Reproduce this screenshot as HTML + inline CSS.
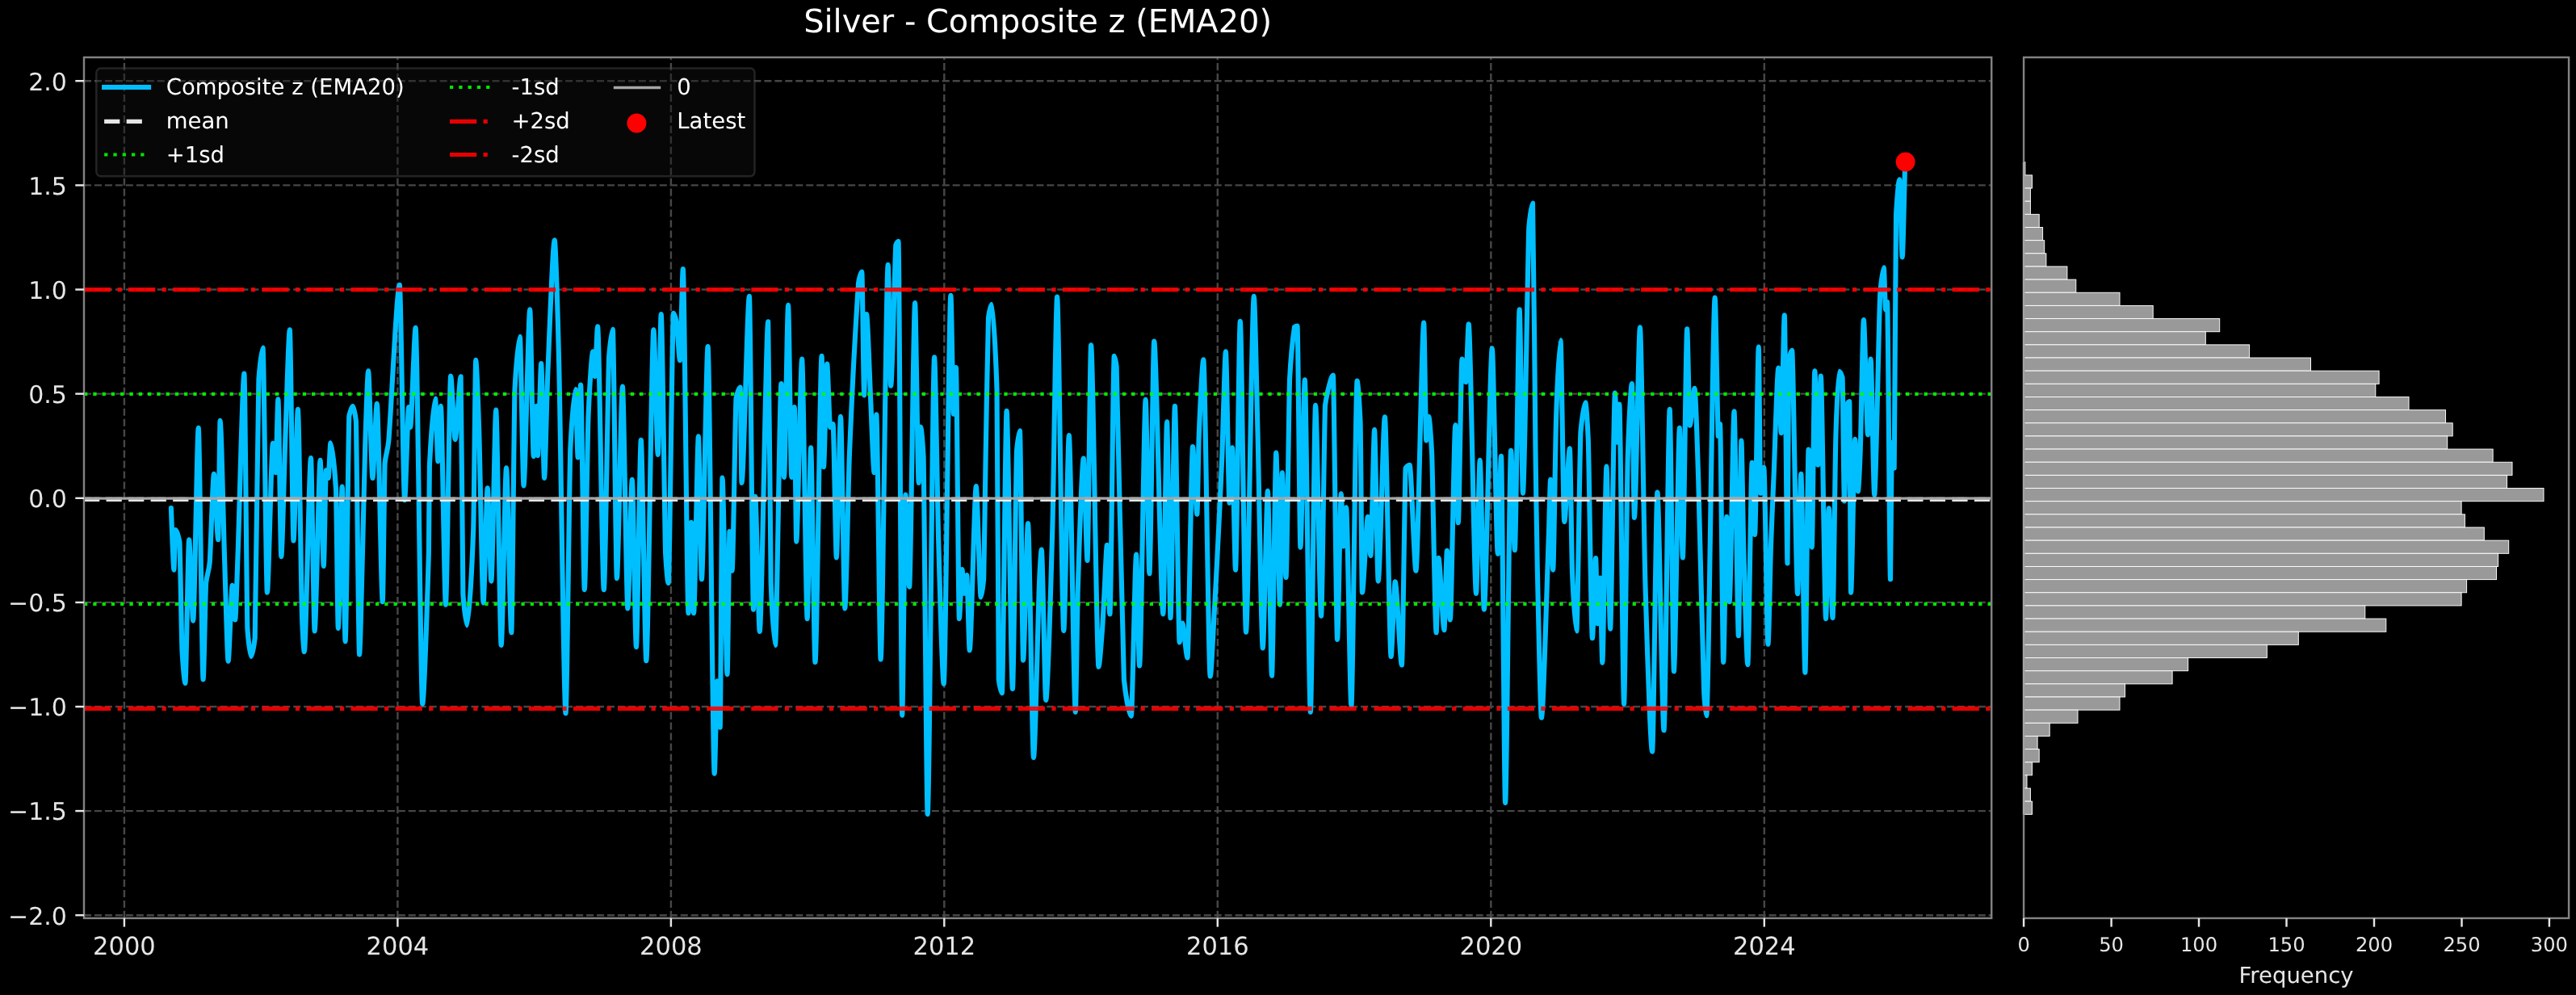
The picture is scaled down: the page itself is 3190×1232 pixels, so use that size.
<!DOCTYPE html>
<html><head><meta charset="utf-8"><title>Silver - Composite z (EMA20)</title>
<style>
html,body{margin:0;padding:0;background:#000;}
body{width:3190px;height:1232px;overflow:hidden;}
svg{display:block;will-change:transform;}
text{text-rendering:geometricPrecision;}
text{font-family:"DejaVu Sans","Liberation Sans",sans-serif;fill:#e6e6e6;}
</style></head><body>
<svg width="3190" height="1232" viewBox="0 0 3190 1232">
<rect width="3190" height="1232" fill="#000"/>

<g stroke="#464646" stroke-width="2.44" stroke-dasharray="9.05 3.91" fill="none">
<path d="M153.9 1136.9 V71.0"/>
<path d="M492.4 1136.9 V71.0"/>
<path d="M830.9 1136.9 V71.0"/>
<path d="M1169.3 1136.9 V71.0"/>
<path d="M1507.8 1136.9 V71.0"/>
<path d="M1846.3 1136.9 V71.0"/>
<path d="M2184.8 1136.9 V71.0"/>
<path d="M104.0 1133.2 H2466.2"/>
<path d="M104.0 1004.1 H2466.2"/>
<path d="M104.0 875.0 H2466.2"/>
<path d="M104.0 745.9 H2466.2"/>
<path d="M104.0 616.8 H2466.2"/>
<path d="M104.0 487.6 H2466.2"/>
<path d="M104.0 358.5 H2466.2"/>
<path d="M104.0 229.4 H2466.2"/>
<path d="M104.0 100.2 H2466.2"/>
</g>
<clipPath id="c"><rect x="104.0" y="71.0" width="2362.2" height="1065.9"/></clipPath>
<g clip-path="url(#c)">
<path d="M211.9 629.0 C212.3 640.1 213.2 664.0 213.6 673.3 C214.1 683.1 214.9 705.6 215.4 705.6 C215.9 705.6 216.8 656.1 217.3 656.1 C218.6 656.1 221.1 664.3 222.4 671.0 C223.2 685.2 224.7 786.8 225.5 806.2 C226.5 824.1 228.4 846.0 229.4 846.0 C230.6 846.0 232.9 668.3 234.1 668.3 C235.4 668.3 237.9 768.6 239.2 768.6 C240.8 768.6 244.1 529.8 245.7 529.8 C247.2 529.8 250.1 841.3 251.6 841.3 C252.5 841.3 254.2 737.9 255.1 722.3 C256.2 710.7 258.6 708.2 259.7 696.6 C261.0 678.6 263.6 586.9 264.9 586.9 C266.2 586.9 268.9 668.3 270.2 668.3 C270.8 668.3 272.0 520.9 272.6 520.9 C274.1 520.9 276.9 659.2 278.4 702.4 C279.4 733.7 281.6 818.7 282.6 818.7 C283.9 818.7 286.4 724.9 287.7 724.9 C288.6 724.9 290.3 767.4 291.2 767.4 C292.1 767.4 293.8 706.4 294.7 682.6 C296.6 630.2 300.5 462.6 302.4 462.6 C303.4 462.6 305.4 737.5 306.4 778.2 C307.5 793.8 309.9 812.9 311.0 812.9 C312.2 812.9 314.5 800.2 315.7 789.9 C316.9 747.0 319.2 513.1 320.4 470.0 C321.7 452.3 324.2 430.6 325.5 430.6 C326.9 430.6 329.5 733.6 330.9 733.6 C332.6 733.6 336.1 548.9 337.9 548.9 C338.8 548.9 340.5 585.1 341.4 585.1 C342.1 585.1 343.6 494.3 344.4 494.3 C345.4 494.3 347.3 689.3 348.3 689.3 C349.5 689.3 351.8 585.4 353.0 553.9 C354.4 515.1 357.4 408.2 358.8 408.2 C360.0 408.2 362.3 669.5 363.5 669.5 C364.9 669.5 367.5 506.9 368.9 506.9 C370.2 506.9 372.7 715.8 374.0 764.2 C374.7 783.5 376.1 807.0 376.8 807.0 C378.9 807.0 382.9 567.1 385.0 567.1 C386.1 567.1 388.5 781.4 389.6 781.4 C391.4 781.4 394.9 569.9 396.6 569.9 C397.7 569.9 399.8 700.9 400.8 700.9 C401.6 700.9 403.1 582.2 403.8 582.2 C404.5 582.2 405.9 592.0 406.6 592.0 C407.3 592.0 408.7 548.4 409.4 548.4 C411.0 548.4 414.4 579.6 416.0 605.2 C416.7 622.3 418.1 777.9 418.8 777.9 C420.0 777.9 422.5 602.5 423.7 602.5 C424.7 602.5 426.6 794.2 427.6 794.2 C428.8 794.2 431.1 551.8 432.3 515.4 C433.5 509.8 435.8 502.9 437.0 502.9 C438.0 502.9 439.9 513.0 440.9 521.3 C441.9 561.2 444.1 810.5 445.1 810.5 C446.0 810.5 447.7 730.8 448.6 698.9 C449.5 667.0 451.2 583.1 452.1 555.1 C453.1 523.2 455.1 459.3 456.1 459.3 C457.4 459.3 460.1 592.0 461.4 592.0 C462.8 592.0 465.4 499.9 466.8 499.9 C468.6 499.9 472.1 745.3 473.8 745.3 C474.5 745.3 475.9 592.3 476.6 573.7 C477.8 561.1 480.1 558.3 481.3 545.7 C484.7 504.8 491.4 352.9 494.8 352.9 C496.4 352.9 499.5 619.3 501.1 619.3 C502.4 619.3 504.9 504.1 506.2 504.1 C506.7 504.1 507.6 529.1 508.1 529.1 C509.7 529.1 513.0 405.8 514.6 405.8 C516.8 405.8 521.1 871.6 523.2 871.6 C525.1 871.6 529.0 750.1 530.9 685.0 C531.1 676.5 531.6 583.0 531.9 577.2 C533.7 539.6 537.3 493.6 539.1 493.6 C539.9 493.6 541.6 571.1 542.4 571.1 C543.3 571.1 545.0 502.9 545.9 502.9 C547.4 502.9 550.4 748.8 551.9 748.8 C553.5 748.8 556.6 465.6 558.2 465.6 C559.6 465.6 562.2 544.2 563.6 544.2 C565.4 544.2 568.9 466.3 570.6 466.3 C571.3 466.3 572.7 709.0 573.4 736.3 C574.7 753.4 577.2 774.4 578.5 774.4 C580.4 774.4 584.3 709.2 586.2 655.8 C587.0 632.8 588.5 445.8 589.2 445.8 C590.2 445.8 592.2 500.9 593.2 532.9 C594.6 576.1 597.2 746.4 598.6 746.4 C599.9 746.4 602.4 604.4 603.7 604.4 C604.9 604.4 607.2 719.6 608.4 719.6 C609.9 719.6 612.8 507.6 614.2 507.6 C615.8 507.6 619.1 798.9 620.7 798.9 C622.3 798.9 625.4 579.2 627.0 579.2 C628.6 579.2 631.7 783.3 633.3 783.3 C634.3 783.3 636.5 518.3 637.5 481.6 C639.1 452.4 642.2 416.7 643.8 416.7 C645.0 416.7 647.3 601.4 648.5 601.4 C650.4 601.4 654.3 383.2 656.2 383.2 C657.4 383.2 659.6 565.2 660.8 565.2 C661.7 565.2 663.4 502.9 664.3 502.9 C664.7 502.9 665.6 564.1 666.0 564.1 C667.0 564.1 669.2 450.0 670.2 450.0 C671.2 450.0 673.1 592.0 674.1 592.0 C675.1 592.0 677.2 487.5 678.3 463.0 C680.4 413.9 684.6 297.4 686.7 297.4 C688.1 297.4 690.9 395.4 692.3 454.8 C694.3 541.8 698.5 883.3 700.5 883.3 C702.0 883.3 704.8 604.3 706.3 556.2 C707.9 522.8 711.0 482.0 712.6 482.0 C713.4 482.0 714.9 566.4 715.7 566.4 C716.6 566.4 718.2 476.6 719.1 476.6 C720.3 476.6 722.6 730.1 723.8 730.1 C725.0 730.1 727.3 549.6 728.5 516.6 C730.0 480.0 732.8 435.3 734.3 435.3 C734.9 435.3 736.0 466.1 736.6 466.1 C737.5 466.1 739.2 404.2 740.1 404.2 C742.0 404.2 745.9 730.1 747.8 730.1 C749.4 730.1 752.5 488.2 754.1 442.0 C755.3 426.6 757.6 407.7 758.8 407.7 C760.1 407.7 762.6 716.1 763.9 716.1 C765.6 716.1 769.1 478.5 770.9 478.5 C772.5 478.5 775.8 753.4 777.4 753.4 C778.8 753.4 781.4 593.9 782.8 593.9 C784.1 593.9 786.6 801.2 787.9 801.2 C789.4 801.2 792.3 544.9 793.8 544.9 C795.4 544.9 798.7 818.2 800.3 818.2 C802.6 818.2 807.1 408.2 809.4 408.2 C810.8 408.2 813.4 562.9 814.8 562.9 C815.8 562.9 817.7 389.0 818.7 389.0 C820.1 389.0 822.8 634.5 824.1 685.0 C825.0 701.6 826.7 721.9 827.6 721.9 C829.2 721.9 832.5 387.9 834.1 387.9 C835.1 387.9 837.1 395.4 838.1 401.5 C839.1 408.7 841.0 446.3 842.0 446.3 C843.0 446.3 844.8 333.1 845.8 333.1 C847.5 333.1 850.8 759.2 852.5 759.2 C853.4 759.2 855.1 646.8 856.0 646.8 C856.8 646.8 858.3 759.2 859.1 759.2 C860.5 759.2 863.5 540.2 864.9 540.2 C865.9 540.2 867.9 717.3 868.9 717.3 C870.8 717.3 874.7 429.0 876.6 429.0 C878.6 429.0 882.7 957.9 884.7 957.9 C885.6 957.9 887.3 843.2 888.2 843.2 C889.1 843.2 890.8 900.8 891.7 900.8 C892.4 900.8 893.8 591.6 894.5 591.6 C896.0 591.6 899.1 835.0 900.6 835.0 C901.3 835.0 902.7 673.1 903.4 658.1 C904.2 658.1 905.8 706.8 906.6 706.8 C907.8 706.8 910.3 520.9 911.5 493.3 C912.8 487.1 915.4 479.6 916.7 479.6 C917.2 479.6 918.0 597.9 918.5 597.9 C920.9 597.9 925.5 366.9 927.9 366.9 C929.2 366.9 931.7 754.6 933.0 754.6 C933.6 754.6 934.7 614.9 935.3 614.9 C936.6 614.9 939.4 781.9 940.7 781.9 C943.3 781.9 948.6 398.4 951.2 398.4 C952.1 398.4 953.8 682.5 954.7 722.3 C956.0 756.8 958.7 798.9 960.0 798.9 C961.9 798.9 965.6 475.0 967.5 475.0 C968.4 475.0 970.1 590.9 971.0 590.9 C972.3 590.9 974.8 377.8 976.1 377.8 C977.1 377.8 979.2 590.9 980.3 590.9 C981.2 590.9 982.9 504.1 983.8 504.1 C984.4 504.1 985.6 670.6 986.2 670.6 C987.9 670.6 991.4 444.6 993.1 444.6 C994.8 444.6 998.1 766.2 999.7 766.2 C1000.8 766.2 1003.0 554.2 1004.1 554.2 C1005.5 554.2 1008.1 819.9 1009.5 819.9 C1011.5 819.9 1015.6 440.7 1017.6 440.7 C1018.2 440.7 1019.4 578.1 1020.0 578.1 C1021.0 578.1 1023.2 450.5 1024.2 450.5 C1025.2 450.5 1027.1 529.1 1028.1 529.1 C1029.0 529.1 1030.7 525.1 1031.6 525.1 C1032.6 525.1 1034.8 690.5 1035.8 690.5 C1037.1 690.5 1039.7 515.8 1041.0 515.8 C1042.3 515.8 1045.0 753.4 1046.3 753.4 C1047.7 753.4 1050.5 596.8 1051.9 563.2 C1054.7 496.0 1060.3 391.4 1063.1 350.2 C1064.1 344.1 1066.2 336.6 1067.3 336.6 C1068.0 336.6 1069.4 489.4 1070.1 489.4 C1070.8 489.4 1072.3 389.0 1073.1 389.0 C1074.4 389.0 1077.0 470.8 1078.3 497.9 C1079.3 519.8 1081.5 585.1 1082.5 585.1 C1083.2 585.1 1084.6 513.4 1085.3 513.4 C1086.6 513.4 1089.3 816.4 1090.6 816.4 C1092.9 816.4 1097.4 327.9 1099.7 327.9 C1100.6 327.9 1102.3 477.8 1103.2 477.8 C1104.7 477.8 1107.8 333.0 1109.3 303.6 C1110.1 301.4 1111.7 298.8 1112.5 298.8 C1113.7 298.8 1116.0 885.6 1117.2 885.6 C1118.2 885.6 1120.4 612.5 1121.4 612.5 C1122.6 612.5 1124.9 726.6 1126.1 726.6 C1127.8 726.6 1131.3 375.0 1133.1 375.0 C1134.2 375.0 1136.5 597.9 1137.7 597.9 C1138.3 597.9 1139.5 528.6 1140.1 528.6 C1141.0 528.6 1142.7 549.0 1143.6 565.6 C1144.9 636.7 1147.4 1008.1 1148.7 1008.1 C1150.8 1008.1 1155.0 442.3 1157.1 442.3 C1158.4 442.3 1160.9 625.4 1162.2 669.8 C1163.8 726.5 1167.1 846.7 1168.7 846.7 C1170.9 846.7 1175.2 365.7 1177.4 365.7 C1178.3 365.7 1180.0 512.8 1180.9 512.8 C1181.7 512.8 1183.2 455.1 1183.9 455.1 C1184.9 455.1 1186.9 766.2 1187.9 766.2 C1188.8 766.2 1190.5 705.1 1191.4 705.1 C1192.1 705.1 1193.5 734.8 1194.2 734.8 C1195.0 734.8 1196.5 712.1 1197.2 712.1 C1198.1 712.1 1199.8 805.2 1200.7 805.2 C1202.7 805.2 1206.8 602.0 1208.8 602.0 C1210.3 602.0 1213.2 739.4 1214.7 739.4 C1215.6 739.4 1217.3 726.8 1218.2 716.4 C1218.8 699.9 1219.9 604.6 1220.5 572.6 C1221.4 523.9 1223.1 415.6 1224.0 393.4 C1225.0 386.0 1227.2 376.9 1228.2 376.9 C1229.8 376.9 1232.9 434.5 1234.5 481.6 C1235.1 512.7 1236.2 807.3 1236.8 841.7 C1237.8 849.2 1239.8 858.3 1240.8 858.3 C1242.2 858.3 1245.1 508.8 1246.6 508.8 C1248.4 508.8 1252.1 853.0 1253.9 853.0 C1255.2 853.0 1257.7 603.9 1259.0 558.6 C1260.0 547.2 1261.9 533.3 1262.9 533.3 C1264.0 533.3 1266.0 817.5 1267.1 817.5 C1268.6 817.5 1271.5 648.0 1273.0 648.0 C1274.8 648.0 1278.2 938.1 1280.0 938.1 C1281.8 938.1 1285.2 768.3 1287.0 722.3 C1287.7 703.9 1289.1 680.6 1289.8 680.6 C1291.2 680.6 1293.8 867.0 1295.2 867.0 C1297.2 867.0 1301.3 727.4 1303.3 654.6 C1304.8 602.5 1307.6 367.6 1309.1 367.6 C1311.1 367.6 1315.2 780.9 1317.3 780.9 C1318.9 780.9 1322.2 539.1 1323.8 539.1 C1325.8 539.1 1329.8 881.7 1331.8 881.7 C1332.5 881.7 1334.0 752.9 1334.8 729.3 C1336.5 674.3 1340.0 567.5 1341.8 567.5 C1343.0 567.5 1345.3 694.0 1346.5 694.0 C1347.7 694.0 1349.9 427.2 1351.1 427.2 C1353.4 427.2 1358.2 825.7 1360.5 825.7 C1361.7 825.7 1363.9 793.1 1365.1 778.2 C1365.7 770.7 1366.8 746.6 1367.4 736.3 C1368.3 720.7 1370.0 674.8 1370.9 674.8 C1371.8 674.8 1373.5 760.4 1374.4 760.4 C1375.8 760.4 1378.5 440.7 1379.8 440.7 C1380.5 440.7 1381.9 447.8 1382.6 453.6 C1384.9 530.7 1389.6 786.4 1391.9 841.7 C1394.1 862.0 1398.6 886.8 1400.8 886.8 C1402.4 886.8 1405.5 686.5 1407.1 686.5 C1408.1 686.5 1410.1 824.5 1411.1 824.5 C1413.0 824.5 1416.8 494.8 1418.7 494.8 C1419.9 494.8 1422.2 710.3 1423.4 710.3 C1424.9 710.3 1427.8 422.5 1429.2 422.5 C1432.0 422.5 1437.6 760.4 1440.4 760.4 C1441.6 760.4 1443.9 522.3 1445.1 522.3 C1446.2 522.3 1448.4 765.1 1449.5 765.1 C1450.8 765.1 1453.6 502.9 1454.9 502.9 C1456.4 502.9 1459.2 795.4 1460.7 795.4 C1461.6 795.4 1463.3 771.6 1464.2 771.6 C1465.8 771.6 1468.9 814.5 1470.5 814.5 C1472.1 814.5 1475.4 553.1 1477.0 553.1 C1478.3 553.1 1481.1 636.8 1482.4 636.8 C1483.0 636.8 1484.1 553.8 1484.7 539.9 C1486.1 506.0 1488.9 445.3 1490.3 445.3 C1492.4 445.3 1496.6 837.4 1498.7 837.4 C1500.0 837.4 1502.6 777.0 1503.9 754.9 C1504.8 740.0 1506.5 707.2 1507.4 689.6 C1508.9 660.4 1511.8 603.0 1513.2 567.9 C1514.4 539.4 1516.7 435.3 1517.9 435.3 C1519.1 435.3 1521.3 622.8 1522.5 622.8 C1523.4 622.8 1525.1 554.2 1526.0 554.2 C1527.0 554.2 1529.0 705.6 1530.0 705.6 C1531.5 705.6 1534.3 397.9 1535.8 397.9 C1537.6 397.9 1541.2 782.6 1543.0 782.6 C1545.5 782.6 1550.3 366.9 1552.8 366.9 C1554.0 366.9 1556.3 488.8 1557.5 535.3 C1559.1 597.7 1562.2 802.4 1563.8 802.4 C1565.3 802.4 1568.4 607.9 1569.9 607.9 C1571.2 607.9 1573.7 836.7 1575.0 836.7 C1576.3 836.7 1579.0 560.5 1580.3 560.5 C1581.5 560.5 1583.8 748.8 1585.0 748.8 C1585.7 748.8 1587.1 585.3 1587.8 585.3 C1589.0 585.3 1591.3 714.9 1592.5 714.9 C1593.7 714.9 1595.9 502.7 1597.1 468.8 C1598.6 440.1 1601.5 415.2 1603.0 405.0 C1603.9 404.3 1605.6 403.5 1606.5 403.5 C1607.5 403.5 1609.4 677.6 1610.4 677.6 C1611.8 677.6 1614.5 470.3 1615.8 470.3 C1617.5 470.3 1621.0 881.7 1622.8 881.7 C1624.4 881.7 1627.5 501.8 1629.1 501.8 C1630.8 501.8 1634.3 762.7 1636.1 762.7 C1637.3 762.7 1639.8 534.4 1641.0 502.6 C1642.6 489.0 1645.7 478.4 1647.3 472.3 C1648.2 468.9 1649.9 464.5 1650.8 464.5 C1652.1 464.5 1654.8 791.9 1656.1 791.9 C1657.3 791.9 1659.6 611.4 1660.8 611.4 C1661.5 611.4 1662.9 676.5 1663.6 676.5 C1664.5 676.5 1666.2 628.2 1667.1 628.2 C1668.7 628.2 1671.8 874.0 1673.4 874.0 C1675.2 874.0 1678.8 471.5 1680.6 471.5 C1681.6 471.5 1683.6 500.2 1684.6 523.6 C1685.2 547.5 1686.3 733.6 1686.9 733.6 C1688.7 733.6 1692.2 639.8 1693.9 639.8 C1694.8 639.8 1696.5 688.1 1697.4 688.1 C1698.6 688.1 1700.9 532.1 1702.1 532.1 C1703.2 532.1 1705.5 719.6 1706.7 719.6 C1708.8 719.6 1712.9 516.2 1714.9 516.2 C1716.8 516.2 1720.7 812.9 1722.6 812.9 C1723.9 812.9 1726.4 720.3 1727.7 720.3 C1729.8 720.3 1733.9 823.4 1735.9 823.4 C1737.1 823.4 1739.4 609.3 1740.6 579.6 C1741.9 577.9 1744.4 575.9 1745.7 575.9 C1747.6 575.9 1751.5 706.8 1753.4 706.8 C1755.9 706.8 1760.8 399.5 1763.2 399.5 C1764.0 399.5 1765.5 545.4 1766.2 545.4 C1767.0 545.4 1768.5 515.8 1769.2 515.8 C1770.2 515.8 1772.2 541.9 1773.2 563.2 C1774.5 601.6 1777.2 783.3 1778.6 783.3 C1779.3 783.3 1780.7 690.7 1781.4 690.7 C1783.2 690.7 1786.7 780.2 1788.4 780.2 C1789.3 780.2 1791.0 681.8 1791.9 681.8 C1792.9 681.8 1794.8 767.4 1795.8 767.4 C1797.4 767.4 1800.7 526.3 1802.3 526.3 C1803.2 526.3 1804.9 647.3 1805.8 647.3 C1807.0 647.3 1809.3 444.6 1810.5 444.6 C1811.7 444.6 1814.0 473.1 1815.2 473.1 C1816.1 473.1 1817.8 401.2 1818.7 401.2 C1821.0 401.2 1825.7 734.8 1828.0 734.8 C1829.2 734.8 1831.5 569.9 1832.7 569.9 C1834.0 569.9 1836.5 754.6 1837.8 754.6 C1840.3 754.6 1845.3 431.3 1847.8 431.3 C1849.5 431.3 1853.0 685.8 1854.8 685.8 C1855.8 685.8 1858.0 564.7 1859.0 564.7 C1860.3 564.7 1862.8 994.1 1864.1 994.1 C1865.8 994.1 1869.3 557.7 1871.1 557.7 C1872.3 557.7 1874.6 681.1 1875.8 681.1 C1877.3 681.1 1880.2 383.2 1881.7 383.2 C1882.8 383.2 1884.9 610.7 1885.9 610.7 C1887.8 610.7 1891.5 336.3 1893.3 281.4 C1894.5 267.9 1896.8 251.5 1898.0 251.5 C1898.9 251.5 1900.6 490.4 1901.5 558.6 C1902.1 603.4 1903.2 678.0 1903.8 703.6 C1905.1 760.5 1907.6 888.7 1908.9 888.7 C1911.1 888.7 1915.6 722.6 1917.8 664.0 C1918.4 648.9 1919.5 593.9 1920.1 593.9 C1920.9 593.9 1922.4 705.6 1923.2 705.6 C1924.2 705.6 1926.1 546.4 1927.1 516.6 C1928.4 475.3 1931.2 421.3 1932.5 421.3 C1933.7 421.3 1936.0 646.1 1937.2 646.1 C1938.9 646.1 1942.2 555.4 1943.9 555.4 C1944.7 555.4 1946.2 687.4 1947.0 708.3 C1948.3 741.2 1951.0 781.4 1952.3 781.4 C1953.6 781.4 1956.1 568.1 1957.4 535.3 C1958.9 518.6 1961.8 498.3 1963.3 498.3 C1964.2 498.3 1965.9 523.8 1966.8 544.6 C1968.1 587.9 1970.6 790.3 1971.9 790.3 C1973.0 790.3 1975.0 691.1 1976.1 691.1 C1976.7 691.1 1977.8 772.1 1978.4 772.1 C1979.2 772.1 1980.7 715.6 1981.5 715.6 C1982.2 715.6 1983.6 820.6 1984.3 820.6 C1985.6 820.6 1988.1 577.6 1989.4 577.6 C1990.6 577.6 1992.9 778.6 1994.1 778.6 C1995.5 778.6 1998.5 486.6 1999.9 486.6 C2000.7 486.6 2002.2 547.7 2002.9 547.7 C2003.5 547.7 2004.7 500.6 2005.3 500.6 C2006.8 500.6 2009.6 871.6 2011.1 871.6 C2012.2 871.6 2014.5 614.4 2015.7 567.9 C2017.0 526.1 2019.6 475.0 2020.9 475.0 C2021.7 475.0 2023.2 641.0 2023.9 641.0 C2025.7 641.0 2029.2 405.4 2030.9 405.4 C2032.5 405.4 2035.8 665.0 2037.4 721.1 C2039.6 796.3 2043.9 930.6 2046.1 930.6 C2047.7 930.6 2050.8 609.5 2052.4 609.5 C2054.4 609.5 2058.5 904.3 2060.5 904.3 C2062.3 904.3 2065.9 506.9 2067.7 506.9 C2069.0 506.9 2071.6 831.3 2072.9 831.3 C2074.7 831.3 2078.2 529.8 2079.9 529.8 C2080.9 529.8 2082.8 690.5 2083.8 690.5 C2085.2 690.5 2087.8 407.2 2089.2 407.2 C2090.1 407.2 2091.8 526.8 2092.7 526.8 C2094.1 526.8 2097.1 480.8 2098.5 480.8 C2099.7 480.8 2102.0 555.6 2103.2 593.5 C2104.9 649.9 2108.4 806.8 2110.2 858.0 C2110.9 870.7 2112.4 886.3 2113.2 886.3 C2115.8 886.3 2121.1 368.5 2123.7 368.5 C2124.7 368.5 2126.7 515.0 2127.7 539.9 C2128.3 539.9 2129.4 525.1 2130.0 525.1 C2131.1 525.1 2133.1 819.9 2134.2 819.9 C2135.2 819.9 2137.2 639.8 2138.2 639.8 C2139.1 639.8 2140.8 745.3 2141.7 745.3 C2143.1 745.3 2146.1 509.2 2147.5 509.2 C2148.8 509.2 2151.6 787.2 2152.9 787.2 C2153.8 787.2 2155.5 545.6 2156.4 545.6 C2157.1 545.6 2158.5 651.0 2159.2 675.6 C2160.5 720.4 2163.0 822.9 2164.3 822.9 C2165.7 822.9 2168.3 572.9 2169.7 572.9 C2170.5 572.9 2172.2 662.0 2173.1 662.0 C2174.3 662.0 2176.6 429.5 2177.8 429.5 C2178.4 429.5 2179.5 610.7 2180.1 610.7 C2181.2 610.7 2183.2 578.7 2184.3 578.7 C2185.6 578.7 2188.2 797.7 2189.5 797.7 C2190.4 797.7 2192.1 701.4 2193.0 675.6 C2193.9 649.8 2195.6 611.9 2196.5 591.2 C2197.9 556.9 2200.9 455.6 2202.3 455.6 C2203.2 455.6 2204.9 536.1 2205.8 536.1 C2206.8 536.1 2208.8 390.2 2209.8 390.2 C2210.7 390.2 2212.6 697.4 2213.5 697.4 C2213.9 697.4 2214.7 465.4 2215.1 446.6 C2216.1 440.8 2218.1 433.7 2219.1 433.7 C2220.8 433.7 2224.3 735.2 2226.1 735.2 C2227.2 735.2 2229.2 586.9 2230.3 586.9 C2231.6 586.9 2234.1 832.7 2235.4 832.7 C2236.4 832.7 2238.6 556.6 2239.6 556.6 C2240.7 556.6 2242.8 677.6 2243.8 677.6 C2244.7 677.6 2246.4 459.3 2247.3 459.3 C2248.3 459.3 2250.3 575.7 2251.3 575.7 C2252.2 575.7 2253.9 465.6 2254.8 465.6 C2256.4 465.6 2259.5 766.2 2261.1 766.2 C2262.0 766.2 2263.9 629.3 2264.8 629.3 C2266.0 629.3 2268.3 765.1 2269.5 765.1 C2270.5 765.1 2272.4 576.6 2273.4 539.9 C2274.4 503.9 2276.6 459.8 2277.6 459.8 C2278.6 459.8 2280.6 464.1 2281.6 467.6 C2282.2 482.3 2283.3 620.5 2283.9 620.5 C2284.8 620.5 2286.5 517.4 2287.4 500.3 C2288.1 498.9 2289.5 497.1 2290.2 497.1 C2290.7 497.1 2291.6 733.6 2292.1 733.6 C2293.4 733.6 2295.9 543.7 2297.2 543.7 C2298.1 543.7 2300.0 608.4 2300.9 608.4 C2301.6 608.4 2303.0 579.8 2303.7 558.6 C2304.8 526.7 2306.8 396.0 2307.9 396.0 C2309.2 396.0 2311.8 538.4 2313.1 538.4 C2314.0 538.4 2315.7 444.6 2316.6 444.6 C2317.8 444.6 2320.0 613.0 2321.2 613.0 C2322.9 613.0 2326.4 406.3 2328.2 364.2 C2329.4 349.3 2331.7 331.2 2332.9 331.2 C2333.4 331.2 2334.5 383.7 2335.0 383.7 C2335.5 383.7 2336.6 373.9 2337.1 373.9 C2338.1 373.9 2340.0 717.3 2341.0 717.3 C2341.4 717.3 2342.3 560.6 2342.7 548.1 C2343.4 548.1 2344.9 579.6 2345.7 579.6 C2346.3 549.0 2347.4 297.9 2348.0 266.3 C2349.1 246.5 2351.1 222.3 2352.2 222.3 C2353.1 222.3 2354.8 318.4 2355.7 318.4 C2356.6 318.4 2358.3 230.0 2359.2 200.5" fill="none" stroke="#00bfff" stroke-width="6.1" stroke-linejoin="round" stroke-linecap="round"/>
<path d="M104.0 618.3 H2466.2" stroke="#ffffff" stroke-opacity="0.9" stroke-width="5.2" stroke-dasharray="19.23 8.31" fill="none"/>
<path d="M104.0 487.9 H2466.2" stroke="#00ff00" stroke-opacity="0.9" stroke-width="4.2" stroke-dasharray="4.28 7.0" fill="none"/>
<path d="M104.0 747.9 H2466.2" stroke="#00ff00" stroke-opacity="0.9" stroke-width="4.2" stroke-dasharray="4.28 7.0" fill="none"/>
<path d="M104.0 358.6 H2466.2" stroke="#ff0000" stroke-opacity="0.9" stroke-width="5.2" stroke-dasharray="33.253 8.313 5.208 8.313" fill="none"/>
<path d="M104.0 877.3 H2466.2" stroke="#ff0000" stroke-opacity="0.9" stroke-width="5.2" stroke-dasharray="33.253 8.313 5.208 8.313" fill="none"/>
<path d="M104.0 617.1 H2466.2" stroke="#a6a6a6" stroke-width="3.1" fill="none"/>
<circle cx="2359.6" cy="200.5" r="11.9" fill="#ff0000"/>
</g>
<rect x="104.0" y="71.0" width="2362.2" height="1065.9" fill="none" stroke="#828282" stroke-width="2.44"/>
<g stroke="#e6e6e6" stroke-width="2.44">
<path d="M153.9 1136.9 v10.7"/>
<path d="M492.4 1136.9 v10.7"/>
<path d="M830.9 1136.9 v10.7"/>
<path d="M1169.3 1136.9 v10.7"/>
<path d="M1507.8 1136.9 v10.7"/>
<path d="M1846.3 1136.9 v10.7"/>
<path d="M2184.8 1136.9 v10.7"/>
<path d="M104.0 1133.2 h-10.7"/>
<path d="M104.0 1004.1 h-10.7"/>
<path d="M104.0 875.0 h-10.7"/>
<path d="M104.0 745.9 h-10.7"/>
<path d="M104.0 616.8 h-10.7"/>
<path d="M104.0 487.6 h-10.7"/>
<path d="M104.0 358.5 h-10.7"/>
<path d="M104.0 229.4 h-10.7"/>
<path d="M104.0 100.2 h-10.7"/>
</g>
<g font-size="30.5px">
<text x="153.9" y="1181.8" text-anchor="middle">2000</text>
<text x="492.4" y="1181.8" text-anchor="middle">2004</text>
<text x="830.9" y="1181.8" text-anchor="middle">2008</text>
<text x="1169.3" y="1181.8" text-anchor="middle">2012</text>
<text x="1507.8" y="1181.8" text-anchor="middle">2016</text>
<text x="1846.3" y="1181.8" text-anchor="middle">2020</text>
<text x="2184.8" y="1181.8" text-anchor="middle">2024</text>
<text x="82.9" y="1144.5" text-anchor="end" font-size="30.0px">−2.0</text>
<text x="82.9" y="1015.3" text-anchor="end" font-size="30.0px">−1.5</text>
<text x="82.9" y="886.2" text-anchor="end" font-size="30.0px">−1.0</text>
<text x="82.9" y="757.1" text-anchor="end" font-size="30.0px">−0.5</text>
<text x="82.9" y="628.0" text-anchor="end" font-size="30.0px">0.0</text>
<text x="82.9" y="498.8" text-anchor="end" font-size="30.0px">0.5</text>
<text x="82.9" y="369.7" text-anchor="end" font-size="30.0px">1.0</text>
<text x="82.9" y="240.6" text-anchor="end" font-size="30.0px">1.5</text>
<text x="82.9" y="111.5" text-anchor="end" font-size="30.0px">2.0</text>
</g>
<text x="1285.1" y="39.9" text-anchor="middle" font-size="39.9px" style="fill:#fff">Silver - Composite z (EMA20)</text>
<rect x="119.3" y="84.6" width="815.2" height="133.7" rx="5.5" ry="5.5" fill="#121212" fill-opacity="0.4" stroke="#555" stroke-opacity="0.4" stroke-width="2.5"/>
<path d="M129.1 108.0 h55" stroke="#00bfff" stroke-width="6.1" stroke-linecap="square" fill="none"/><text x="205.7" y="117.2" font-size="27.5px" style="fill:#fff">Composite z (EMA20)</text>
<path d="M129.1 150.4 h55" stroke="#ffffff" stroke-opacity="0.9" stroke-width="5.2" stroke-dasharray="19.23 8.31" fill="none"/><text x="205.7" y="159.1" font-size="27.5px" style="fill:#fff">mean</text>
<path d="M129.1 191.5 h55" stroke="#00ff00" stroke-opacity="0.9" stroke-width="4.2" stroke-dasharray="4.28 7.0" fill="none"/><text x="205.7" y="201.0" font-size="27.5px" style="fill:#fff">+1sd</text>
<path d="M557.0 108.0 h55" stroke="#00ff00" stroke-opacity="0.9" stroke-width="4.2" stroke-dasharray="4.28 7.0" fill="none"/><text x="633.5" y="117.2" font-size="27.5px" style="fill:#fff">-1sd</text>
<path d="M557.0 150.4 h55" stroke="#ff0000" stroke-opacity="0.9" stroke-width="5.2" stroke-dasharray="33.253 8.313 5.208 8.313" fill="none"/><text x="633.5" y="159.1" font-size="27.5px" style="fill:#fff">+2sd</text>
<path d="M557.0 191.5 h55" stroke="#ff0000" stroke-opacity="0.9" stroke-width="5.2" stroke-dasharray="33.253 8.313 5.208 8.313" fill="none"/><text x="633.5" y="201.0" font-size="27.5px" style="fill:#fff">-2sd</text>
<path d="M761.5 108.5 h55" stroke="#a6a6a6" stroke-width="3.4" stroke-linecap="square" fill="none"/><text x="838.3" y="117.2" font-size="27.5px" style="fill:#fff">0</text>
<circle cx="788.4" cy="152.6" r="12" fill="#ff0000"/><text x="838.3" y="159.1" font-size="27.5px" style="fill:#fff">Latest</text>
<g fill="#999" stroke="#ffffff" stroke-width="0.95">
<rect x="2506.1" y="200.75" width="1.8" height="16.15"/>
<rect x="2506.1" y="216.90" width="10.4" height="16.15"/>
<rect x="2506.1" y="233.05" width="8.3" height="16.15"/>
<rect x="2506.1" y="249.21" width="8.3" height="16.15"/>
<rect x="2506.1" y="265.36" width="19.1" height="16.15"/>
<rect x="2506.1" y="281.51" width="23.5" height="16.15"/>
<rect x="2506.1" y="297.66" width="25.6" height="16.15"/>
<rect x="2506.1" y="313.81" width="27.8" height="16.15"/>
<rect x="2506.1" y="329.97" width="53.8" height="16.15"/>
<rect x="2506.1" y="346.12" width="64.7" height="16.15"/>
<rect x="2506.1" y="362.27" width="118.9" height="16.15"/>
<rect x="2506.1" y="378.42" width="160.1" height="16.15"/>
<rect x="2506.1" y="394.57" width="242.6" height="16.15"/>
<rect x="2506.1" y="410.73" width="225.2" height="16.15"/>
<rect x="2506.1" y="426.88" width="279.5" height="16.15"/>
<rect x="2506.1" y="443.03" width="355.4" height="16.15"/>
<rect x="2506.1" y="459.18" width="440.0" height="16.15"/>
<rect x="2506.1" y="475.33" width="435.7" height="16.15"/>
<rect x="2506.1" y="491.49" width="476.9" height="16.15"/>
<rect x="2506.1" y="507.64" width="522.4" height="16.15"/>
<rect x="2506.1" y="523.79" width="531.1" height="16.15"/>
<rect x="2506.1" y="539.94" width="524.6" height="16.15"/>
<rect x="2506.1" y="556.09" width="581.0" height="16.15"/>
<rect x="2506.1" y="572.25" width="604.9" height="16.15"/>
<rect x="2506.1" y="588.40" width="598.4" height="16.15"/>
<rect x="2506.1" y="604.55" width="643.9" height="16.15"/>
<rect x="2506.1" y="620.70" width="542.0" height="16.15"/>
<rect x="2506.1" y="636.85" width="546.3" height="16.15"/>
<rect x="2506.1" y="653.01" width="570.2" height="16.15"/>
<rect x="2506.1" y="669.16" width="600.6" height="16.15"/>
<rect x="2506.1" y="685.31" width="587.5" height="16.15"/>
<rect x="2506.1" y="701.46" width="585.4" height="16.15"/>
<rect x="2506.1" y="717.61" width="548.5" height="16.15"/>
<rect x="2506.1" y="733.77" width="542.0" height="16.15"/>
<rect x="2506.1" y="749.92" width="422.7" height="16.15"/>
<rect x="2506.1" y="766.07" width="448.7" height="16.15"/>
<rect x="2506.1" y="782.22" width="340.2" height="16.15"/>
<rect x="2506.1" y="798.37" width="301.2" height="16.15"/>
<rect x="2506.1" y="814.53" width="203.5" height="16.15"/>
<rect x="2506.1" y="830.68" width="184.0" height="16.15"/>
<rect x="2506.1" y="846.83" width="125.4" height="16.15"/>
<rect x="2506.1" y="862.98" width="118.9" height="16.15"/>
<rect x="2506.1" y="879.13" width="66.9" height="16.15"/>
<rect x="2506.1" y="895.29" width="32.1" height="16.15"/>
<rect x="2506.1" y="911.44" width="17.0" height="16.15"/>
<rect x="2506.1" y="927.59" width="19.1" height="16.15"/>
<rect x="2506.1" y="943.74" width="10.4" height="16.15"/>
<rect x="2506.1" y="959.89" width="3.9" height="16.15"/>
<rect x="2506.1" y="976.05" width="8.3" height="16.15"/>
<rect x="2506.1" y="992.20" width="10.4" height="16.15"/>
</g>
<rect x="2506.1" y="71.0" width="675.0" height="1065.9" fill="none" stroke="#828282" stroke-width="2.44"/>
<path d="M2506.1 200.75 V1008.4" stroke="#a5a5a5" stroke-width="2.44"/>
<g stroke="#e6e6e6" stroke-width="2.44">
<path d="M2506.1 1136.9 v10.7"/>
<path d="M2614.6 1136.9 v10.7"/>
<path d="M2723.0 1136.9 v10.7"/>
<path d="M2831.5 1136.9 v10.7"/>
<path d="M2940.0 1136.9 v10.7"/>
<path d="M3048.5 1136.9 v10.7"/>
<path d="M3156.9 1136.9 v10.7"/>
</g>
<g font-size="24.2px">
<text x="2506.1" y="1178.0" text-anchor="middle">0</text>
<text x="2614.6" y="1178.0" text-anchor="middle">50</text>
<text x="2723.0" y="1178.0" text-anchor="middle">100</text>
<text x="2831.5" y="1178.0" text-anchor="middle">150</text>
<text x="2940.0" y="1178.0" text-anchor="middle">200</text>
<text x="3048.5" y="1178.0" text-anchor="middle">250</text>
<text x="3156.9" y="1178.0" text-anchor="middle">300</text>
</g>
<text x="2843.6" y="1216.9" text-anchor="middle" font-size="27.5px">Frequency</text>
</svg></body></html>
